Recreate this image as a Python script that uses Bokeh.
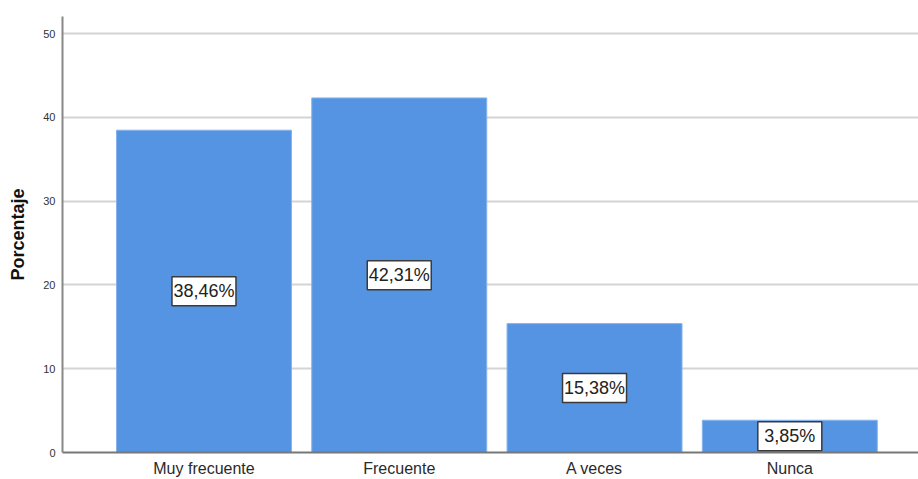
from bokeh.plotting import figure
from bokeh.models import ColumnDataSource, FixedTicker, Range1d
from bokeh.core.properties import value
from bokeh.embed import file_html
from bokeh.resources import INLINE

categories = ["Muy frecuente", "Frecuente", "A veces", "Nunca"]
percentages = [38.46, 42.31, 15.38, 3.85]
y_ticks = [0, 10, 20, 30, 40, 50]

positions = list(range(1, len(categories) + 1))
labels = [f"{v:.2f}".replace(".", ",") + "%" for v in percentages]
mids = [v / 2 for v in percentages]

src = ColumnDataSource(dict(x=positions, top=percentages, mid=mids, label=labels))

p = figure(width=918, height=479, output_backend="svg", toolbar_location=None,
           x_range=Range1d(0.2755, 4.659), y_range=Range1d(0, 52.03),
           min_border_left=62, min_border_top=16, min_border_bottom=27, min_border_right=0)
p.outline_line_color = None
p.background_fill_color = "white"
p.border_fill_color = "white"

p.vbar(x="x", top="top", width=0.896, bottom=0, source=src,
       fill_color="#5594E3", line_color="#86B3EC", line_width=1)

p.rect(x="x", y="mid", width=64, height=29, width_units="screen", height_units="screen",
       source=src, fill_color="white", line_color="#3A3A3A", line_width=1.5)
p.text(x="x", y="mid", text="label", source=src, text_align="center", text_baseline="middle",
       text_font=value("Liberation Sans"), text_font_size="18px", text_color="#222222")

# axes
p.xaxis.ticker = FixedTicker(ticks=positions)
p.xaxis.major_label_overrides = {pos: cat for pos, cat in zip(positions, categories)}
p.xaxis.major_tick_line_color = None
p.xaxis.major_tick_out = 0
p.xaxis.major_tick_in = 0
p.xaxis.minor_tick_line_color = None
p.xaxis.minor_tick_out = 0
p.xaxis.major_label_text_font = "Liberation Sans"
p.xaxis.major_label_text_font_size = "16px"
p.xaxis.major_label_text_color = "#2a2a2a"
p.xaxis.major_label_text_line_height = 0.75
p.xaxis.major_label_standoff = 7
p.xaxis.axis_line_color = "#777777"
p.xaxis.axis_line_width = 2

p.yaxis.ticker = FixedTicker(ticks=y_ticks)
p.yaxis.major_tick_line_color = None
p.yaxis.major_tick_out = 0
p.yaxis.major_tick_in = 0
p.yaxis.minor_tick_line_color = None
p.yaxis.minor_tick_out = 0
p.yaxis.major_label_text_font = "Liberation Sans"
p.yaxis.major_label_text_font_size = "11px"
p.yaxis.major_label_text_color = "#333333"
p.yaxis.major_label_standoff = 7
p.yaxis.axis_line_color = "#888888"
p.yaxis.axis_line_width = 2
p.yaxis.axis_label = "Porcentaje"
p.yaxis.axis_label_text_font = "Liberation Sans"
p.yaxis.axis_label_text_font_style = "bold"
p.yaxis.axis_label_text_font_size = "18px"
p.yaxis.axis_label_text_color = "#111111"
p.yaxis.axis_label_standoff = 12

p.xgrid.grid_line_color = None
p.ygrid.grid_line_color = "#d4d4d4"
p.ygrid.grid_line_width = 2

open("out.html", "w").write(file_html(p, INLINE))
